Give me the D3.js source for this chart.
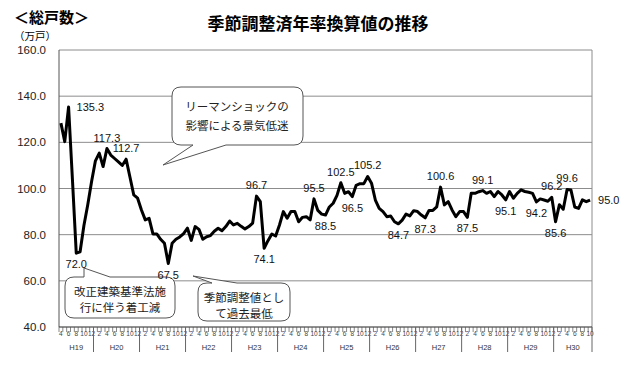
<!DOCTYPE html>
<html>
<head>
<meta charset="utf-8">
<script src="https://cdn.jsdelivr.net/npm/d3@7"></script>
<style>
  body { margin: 0; background: #fff; }
  svg text { font-family: "Liberation Sans", Arial, sans-serif; }
  .jp { font-family: "Noto Sans CJK JP", sans-serif; }
</style>
</head>
<body>
<div id="chart"></div>
<script>
// fiscal-year blocks (Heisei years), first month of the series is April H19
const years = ["H19", "H20", "H21", "H22", "H23", "H24", "H25", "H26", "H27", "H28", "H29", "H30"];
const startMonth = 4;

// seasonally adjusted annual rate, 10k units, one array per calendar year
const v19 = [128.3, 120.3, 135.3, 104.0, 72.0, 72.6, 84.0, 93.0, 103.0];
const v20 = [112.0, 115.3, 109.5, 117.3, 114.5, 113.0, 111.5, 110.0, 112.7, 105.0, 97.2, 95.8];
const v21 = [90.7, 86.4, 87.1, 80.3, 80.3, 78.0, 76.3, 67.5, 76.3, 78.0, 79.0, 80.5];
const v22 = [82.8, 77.5, 83.5, 82.3, 78.0, 79.1, 79.6, 81.5, 82.8, 81.7, 83.5, 85.9];
const v23 = [84.2, 84.9, 83.6, 82.5, 83.5, 85.0, 96.7, 94.3, 74.1, 77.4, 80.3, 79.4];
const v24 = [84.2, 90.0, 87.1, 90.0, 90.0, 85.6, 87.5, 87.8, 86.4, 95.5, 90.5, 88.9];
const v25 = [88.5, 92.0, 93.6, 97.0, 102.5, 97.9, 98.6, 96.5, 101.4, 102.1, 102.1, 105.2];
const v26 = [102.3, 95.0, 91.4, 90.0, 87.8, 88.1, 85.6, 84.7, 86.3, 88.9, 88.1, 90.4];
const v27 = [90.0, 88.5, 87.3, 90.5, 90.5, 92.0, 100.6, 92.9, 94.3, 90.7, 87.8, 90.0];
const v28 = [90.0, 87.5, 97.9, 97.9, 98.6, 99.1, 97.9, 98.7, 96.5, 98.7, 97.2, 95.1];
const v29 = [98.7, 95.8, 97.9, 99.4, 98.7, 98.4, 97.9, 94.2, 95.5, 95.0, 94.5, 96.2];
const v30 = [85.6, 93.0, 91.0, 99.6, 99.4, 92.0, 91.4, 95.1, 94.3, 95.0];

// months (index into the series) that carry a value label
const labelled = [2, 4, 12, 17, 28, 51, 53, 66, 69, 73, 76, 80, 88, 95, 99, 106, 110, 116, 124, 128, 129, 132, 138];

const yTicks = [40, 60, 80, 100, 120, 140, 160];

const values = [].concat(v19, v20, v21, v22, v23, v24, v25, v26, v27, v28, v29, v30);
const data = values.map((v, i) => ({ i: i, v: v, m: (startMonth - 1 + i) % 12 + 1 }));

const width = 640;
const height = 369;
const margin = { top: 50, right: 48, bottom: 42, left: 59 };

const svg = d3.select("#chart")
  .append("svg")
  .attr("width", width)
  .attr("height", height);

const x = d3.scaleLinear()
  .domain([-0.5, data.length - 0.5])
  .range([margin.left, width - margin.right]);

const y = d3.scaleLinear()
  .domain([40, 160])
  .range([height - margin.bottom, margin.top]);

const x0 = margin.left, x1 = width - margin.right;
const yb = y(40);

// gridlines
svg.append("g")
  .selectAll("line")
  .data(yTicks.filter(d => d > 40))
  .enter()
  .append("line")
  .attr("x1", x0)
  .attr("x2", x1)
  .attr("y1", d => y(d))
  .attr("y2", d => y(d))
  .attr("stroke", "#8c8c8c")
  .attr("stroke-width", 1);

// frame sides
svg.append("line")
  .attr("x1", x0).attr("x2", x0)
  .attr("y1", y(160)).attr("y2", yb)
  .attr("stroke", "#555");
svg.append("line")
  .attr("x1", x1).attr("x2", x1)
  .attr("y1", y(160)).attr("y2", yb)
  .attr("stroke", "#8c8c8c");

// y labels
svg.append("g")
  .selectAll("text")
  .data(yTicks)
  .enter()
  .append("text")
  .attr("x", 46)
  .attr("y", d => y(d))
  .attr("dy", "0.36em")
  .attr("text-anchor", "end")
  .style("font-size", "11.5px")
  .style("fill", "#222")
  .text(d => d3.format(".1f")(d));

// x axis line and month ticks
svg.append("line")
  .attr("x1", x0).attr("x2", x1)
  .attr("y1", yb).attr("y2", yb)
  .attr("stroke", "#222");

svg.append("g")
  .selectAll("line")
  .data(d3.range(data.length + 1))
  .enter()
  .append("line")
  .attr("x1", d => x(d - 0.5))
  .attr("x2", d => x(d - 0.5))
  .attr("y1", yb)
  .attr("y2", yb + 5)
  .attr("stroke", "#555")
  .attr("stroke-width", 0.7);

svg.append("g")
  .selectAll("text")
  .data(data.filter(d => d.m % 2 === 0))
  .enter()
  .append("text")
  .attr("x", d => x(d.i))
  .attr("y", yb + 9)
  .attr("text-anchor", "middle")
  .style("font-size", "6.5px")
  .style("fill", "#444")
  .text(d => d.m);

// year separators and labels
const yearStarts = data.filter(d => d.m === 1).map(d => d.i);
svg.append("g")
  .selectAll("line")
  .data(yearStarts.concat([data.length]))
  .enter()
  .append("line")
  .attr("x1", d => x(d - 0.5))
  .attr("x2", d => x(d - 0.5))
  .attr("y1", yb)
  .attr("y2", yb + 25)
  .attr("stroke", "#666")
  .attr("stroke-width", 1);

const bounds = [0].concat(yearStarts, [data.length]);
svg.append("g")
  .selectAll("text")
  .data(years)
  .enter()
  .append("text")
  .attr("x", (d, k) => (x(bounds[k] - 0.5) + x(bounds[k + 1] - 0.5)) / 2)
  .attr("y", yb + 23)
  .attr("text-anchor", "middle")
  .style("font-size", "7.5px")
  .style("fill", "#333")
  .text(d => d);

// callouts
function callout(bx, by, bw, bh, r, tail) {
  let p = `M${bx + r},${by}`;
  if (tail.edge === "top") p += `L${tail.a},${by}L${tail.px},${tail.py}L${tail.b},${by}`;
  p += `L${bx + bw - r},${by}Q${bx + bw},${by} ${bx + bw},${by + r}`;
  p += `L${bx + bw},${by + bh - r}Q${bx + bw},${by + bh} ${bx + bw - r},${by + bh}`;
  if (tail.edge === "bottom") p += `L${tail.b},${by + bh}L${tail.px},${tail.py}L${tail.a},${by + bh}`;
  p += `L${bx + r},${by + bh}Q${bx},${by + bh} ${bx},${by + bh - r}`;
  p += `L${bx},${by + r}Q${bx},${by} ${bx + r},${by}Z`;
  return p;
}

const boxes = [
  { b: [172, 87, 131, 58], tail: { edge: "bottom", a: 193, b: 226, px: 163, py: 165 },
    lines: ["リーマンショックの", "影響による景気低迷"], cx: 237, ly: [111, 130] },
  { b: [65, 277, 110, 41], tail: { edge: "top", a: 84, b: 110, px: 84, py: 268 },
    lines: ["改正建築基準法施", "行に伴う着工減"], cx: 120, ly: [296, 312] },
  { b: [198, 283, 92, 38], tail: { edge: "top", a: 212, b: 237, px: 193, py: 276 },
    lines: ["季節調整値とし", "て過去最低"], cx: 244, ly: [302, 318] }
];

boxes.forEach(function(c) {
  svg.append("path")
    .attr("d", callout(c.b[0], c.b[1], c.b[2], c.b[3], 9, c.tail))
    .attr("fill", "#fff")
    .attr("stroke", "#555")
    .attr("stroke-width", 1);
  c.lines.forEach(function(t, k) {
    svg.append("text")
      .attr("class", "jp")
      .attr("x", c.cx)
      .attr("y", c.ly[k])
      .attr("text-anchor", "middle")
      .style("font-size", "11.5px")
      .style("fill", "#222")
      .text(t);
  });
});

// series line
const line = d3.line()
  .x(d => x(d.i))
  .y(d => y(d.v));

svg.append("path")
  .datum(data)
  .attr("fill", "none")
  .attr("stroke", "#000")
  .attr("stroke-width", 3)
  .attr("stroke-linejoin", "round")
  .attr("d", line);

// value labels: above / below / right of the point
const place = { 2: "r", 4: "b", 12: "a", 17: "a", 28: "b", 51: "a", 53: "b", 66: "a", 69: "b",
  73: "a", 76: "b", 80: "a", 88: "b", 95: "b", 99: "a", 106: "b", 110: "a", 116: "b",
  124: "b", 128: "a", 129: "b", 132: "a", 138: "r" };

svg.append("g")
  .selectAll("text")
  .data(data.filter(d => labelled.includes(d.i)))
  .enter()
  .append("text")
  .attr("x", d => place[d.i] === "r" ? x(d.i) + 8 : x(d.i))
  .attr("y", d => place[d.i] === "a" ? y(d.v) - 7 : place[d.i] === "b" ? y(d.v) + 15 : y(d.v) + 4)
  .attr("text-anchor", d => place[d.i] === "r" ? "start" : "middle")
  .style("font-size", "11px")
  .style("fill", "#111")
  .text(d => d3.format(".1f")(d.v));

// titles
svg.append("text")
  .attr("class", "jp")
  .attr("x", 14)
  .attr("y", 23)
  .style("font-size", "15px")
  .style("font-weight", "bold")
  .text("＜総戸数＞");

svg.append("text")
  .attr("class", "jp")
  .attr("x", 14)
  .attr("y", 40)
  .style("font-size", "10.5px")
  .text("（万戸）");

svg.append("text")
  .attr("class", "jp")
  .attr("x", 318)
  .attr("y", 30)
  .attr("text-anchor", "middle")
  .style("font-size", "17px")
  .style("font-weight", "bold")
  .text("季節調整済年率換算値の推移");
</script>
</body>
</html>
